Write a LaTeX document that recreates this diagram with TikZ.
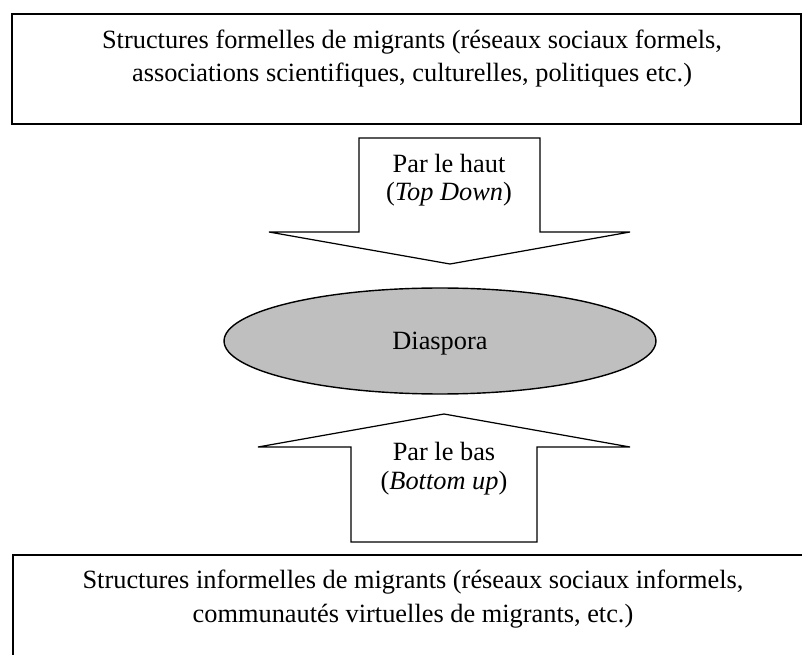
\documentclass[tikz,border=0pt]{standalone}
\usepackage{fontspec}
\setmainfont{Liberation Serif}
\usetikzlibrary{shapes.geometric}
\begin{document}
\begin{tikzpicture}[
        x=0.02cm, y=-0.02cm,
        cadre/.style={draw=black, line width=1.1pt},
        texte/.style={align=center, inner sep=0pt, anchor=base,
            font=\fontsize{15}{18.8}\selectfont},
        petit/.style={texte, font=\fontsize{15}{16}\selectfont},
        fleche/.style={draw=black, line width=0.7pt, fill=white, line join=miter},
        bulle/.style={ellipse, draw=black, line width=0.8pt, fill=black!25,
            minimum width=8.64cm, minimum height=2.12cm},
        ]
        \useasboundingbox (0,0) rectangle (802,655);
        \clip (0,0) rectangle (802,655);

        % Boxes
        \node[cadre, minimum width=15.78cm, minimum height=2.2cm] (formel) at (406.5,69) {};
        \node[cadre, minimum width=16cm, minimum height=2.5cm] (informel) at (413,617.5) {};
        \node[texte] (formeltxt) at (412,82)
            {Structures formelles de migrants (réseaux sociaux formels,\\
             associations scientifiques, culturelles, politiques etc.)};
        \node[texte] (informeltxt) at (413,622)
            {Structures informelles de migrants (réseaux sociaux informels,\\
             communautés virtuelles de migrants, etc.)};

        % Top down
        \draw[fleche] (359,138) -- (540,138) -- (540,232) -- (630,232)
            -- (450,264) -- (269,232) -- (359,232) -- cycle;
        \node[petit] (haut) at (449,201) {Par le haut\\(\textit{Top Down})};

        % Diaspora
        \node[bulle] (diaspora) at (440,341) {};
        \node[texte] (diasporatxt) at (440,350) {Diaspora};

        % Bottom up
        \draw[fleche] (444,414) -- (630,447) -- (537,447) -- (537,542)
            -- (351,542) -- (351,447) -- (258,447) -- cycle;
        \node[petit] (bas) at (444,489) {Par le bas\\(\textit{Bottom up})};

\end{tikzpicture}
\end{document}
